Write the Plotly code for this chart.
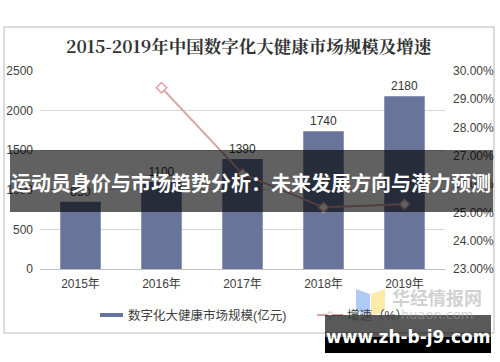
import plotly.graph_objects as go

years = ["2015年", "2016年", "2017年", "2018年", "2019年"]
market_size = [850, 1100, 1390, 1740, 2180]
growth = [None, 0.2941, 0.2636, 0.2518, 0.2529]
bar_labels = ["850", "1100", "1390", "1740", "2180"]
left_ticks = [0, 500, 1000, 1500, 2000, 2500]
right_ticks = [0.23, 0.24, 0.25, 0.26, 0.27, 0.28, 0.29, 0.30]
series_names = ["数字化大健康市场规模(亿元)", "增速（%）"]

W, H = 500, 362
L, R, T, B = 40, 55, 71, 93
pw, ph = W - L - R, H - T - B

def px(x):
    return (x - L) / pw

def py(y):
    return (H - B - y) / ph

FONT = "Liberation Sans, Noto Sans CJK SC, sans-serif"
BAR_C = "#68749a"
LINE_C = "#d9a3a3"

fig = go.Figure()
fig.add_trace(go.Bar(
    x=years, y=market_size, name=series_names[0],
    marker=dict(color=BAR_C, line=dict(width=0)),
    width=0.5, text=bar_labels, textposition="outside",
    textfont=dict(size=12, color="#333333", family=FONT), cliponaxis=False,
))
fig.add_trace(go.Scatter(
    x=years, y=growth, name=series_names[1], yaxis="y2", mode="lines+markers",
    line=dict(color=LINE_C, width=2),
    marker=dict(symbol="diamond", size=8, color="white", line=dict(color=LINE_C, width=1.5)),
))

shapes = [
    # outer frame
    dict(type="rect", xref="paper", yref="paper", x0=px(4), x1=px(494), y0=py(27), y1=py(333),
         line=dict(color="#b8b8b8", width=1), fillcolor="rgba(0,0,0,0)", layer="below"),
    # legend symbols
    dict(type="line", xref="paper", yref="paper", x0=px(100), x1=px(123), y0=py(315), y1=py(315),
         line=dict(color=BAR_C, width=4)),
    dict(type="line", xref="paper", yref="paper", x0=px(317), x1=px(343), y0=py(315), y1=py(315),
         line=dict(color=LINE_C, width=2)),
    dict(type="path", xref="paper", yref="paper",
         path=f"M {px(330)},{py(311.5)} L {px(333.5)},{py(315)} L {px(330)},{py(318.5)} L {px(326.5)},{py(315)} Z",
         line=dict(color=LINE_C, width=1), fillcolor="white"),
    # banner
    dict(type="rect", xref="paper", yref="paper", x0=px(10), x1=px(493), y0=py(150), y1=py(212),
         line=dict(width=0), fillcolor="rgba(0,0,0,0.62)", layer="above"),
    # logo icon
    dict(type="path", xref="paper", yref="paper",
         path=f"M {px(356)},{py(289)} L {px(370)},{py(294)} L {px(370)},{py(316)} L {px(356)},{py(311)} Z",
         line=dict(width=0), fillcolor="rgba(120,170,235,0.6)", layer="below"),
    dict(type="path", xref="paper", yref="paper",
         path=f"M {px(371)},{py(294)} L {px(385)},{py(289)} L {px(385)},{py(311)} L {px(371)},{py(316)} Z",
         line=dict(width=0), fillcolor="rgba(250,220,110,0.6)", layer="below"),
    # watermark boxes
    dict(type="rect", xref="paper", yref="paper", x0=px(325), x1=px(491), y0=py(315), y1=py(337),
         line=dict(width=0), fillcolor="rgba(0,0,0,0.65)", layer="above"),
    dict(type="rect", xref="paper", yref="paper", x0=px(325), x1=px(491), y0=py(337), y1=py(353),
         line=dict(width=0), fillcolor="#000000", layer="above"),
]

annotations = [
    dict(text="<b>2015-2019年中国数字化大健康市场规模及增速</b>", xref="paper", yref="paper",
         x=px(249), y=py(46), showarrow=False, xanchor="center", yanchor="middle",
         font=dict(size=17.5, color="#333333", family="Noto Serif CJK SC, Noto Sans CJK SC, serif")),
    dict(text=series_names[0], xref="paper", yref="paper", x=px(126), y=py(315), showarrow=False,
         xanchor="left", yanchor="middle", font=dict(size=12.5, color="#404040", family=FONT)),
    dict(text=series_names[1], xref="paper", yref="paper", x=px(345), y=py(315), showarrow=False,
         xanchor="left", yanchor="middle", font=dict(size=12.5, color="#404040", family=FONT)),
    dict(text="<b>华经情报网</b>", xref="paper", yref="paper", x=px(437), y=py(297), showarrow=False,
         xanchor="center", yanchor="middle",
         font=dict(size=18, color="rgba(170,170,170,0.55)", family="Noto Sans CJK SC")),
    dict(text="huaon.com", xref="paper", yref="paper", x=px(437), y=py(314), showarrow=False,
         xanchor="center", yanchor="middle",
         font=dict(size=13, color="rgba(170,170,170,0.5)", family="DejaVu Sans")),
    dict(text="<b>运动员身价与市场趋势分析：未来发展方向与潜力预测</b>", xref="paper", yref="paper",
         x=px(251), y=py(182), showarrow=False, xanchor="center", yanchor="middle",
         font=dict(size=20, color="white", family="Noto Sans CJK SC")),
    dict(text="<b>www.zh-b-j9.com</b>", xref="paper", yref="paper", x=px(408), y=py(337), showarrow=False,
         xanchor="center", yanchor="middle",
         font=dict(size=17, color="white", family="DejaVu Sans, Liberation Sans")),
]

fig.update_layout(
    width=W, height=H, margin=dict(l=L, r=R, t=T, b=B, autoexpand=False),
    paper_bgcolor="white", plot_bgcolor="white",
    font=dict(family=FONT, size=12, color="#404040"),
    showlegend=False, bargap=0.5,
    xaxis=dict(showgrid=False, showline=True, linecolor="#c0c0c0", ticks="", tickfont=dict(size=12),
               automargin=False, ticklabelstandoff=4),
    yaxis=dict(range=[0, 2500], tickvals=left_ticks, showgrid=True, gridcolor="#d6d6d6",
               zeroline=False, showline=False, tickfont=dict(size=12), automargin=False,
               ticklabelstandoff=6),
    yaxis2=dict(range=[0.23, 0.30], tickvals=right_ticks, tickformat=".2%", overlaying="y", side="right",
                showgrid=False, zeroline=False, showline=False, tickfont=dict(size=12), automargin=False,
                ticklabelstandoff=7),
    shapes=shapes, annotations=annotations,
)

fig.write_html("out.html", post_script="document.body.style.margin='0';",
               config={"displayModeBar": False})
